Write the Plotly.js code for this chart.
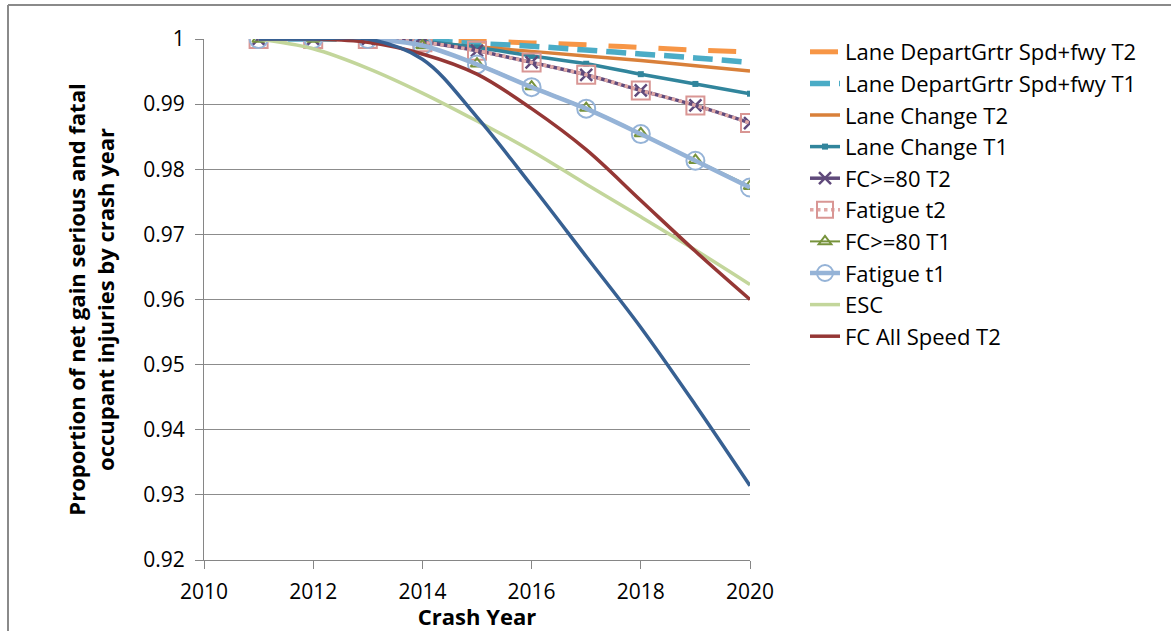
<!DOCTYPE html>
<html>
<head>
<meta charset="utf-8">
<script src="https://cdn.plot.ly/plotly-3.0.1.min.js"></script>
<style>html,body{margin:0;padding:0;background:#fff;}#chart{width:1171px;height:631px;}</style>
</head>
<body>
<div id="chart"></div>
<script>
// ---- data ----
const years = [2011, 2012, 2013, 2014, 2015, 2016, 2017, 2018, 2019, 2020];

const laneDepartT2 = [1, 1, 1, 0.9999, 0.9997, 0.9994, 0.9991, 0.9987, 0.9983, 0.9980];
const laneDepartT1 = [1, 1, 1, 0.9998, 0.9993, 0.9989, 0.9983, 0.9977, 0.9971, 0.9964];
const laneChangeT2 = [1, 1, 1, 0.9995, 0.9988, 0.9981, 0.9974, 0.9967, 0.9959, 0.9951];
const laneChangeT1 = [1, 1, 1, 0.9996, 0.9987, 0.9974, 0.9962, 0.9946, 0.9931, 0.9916];
const fc80T2       = [1, 1, 1, 0.9995, 0.9982, 0.9964, 0.9945, 0.9921, 0.9898, 0.9871];
const fatigueT2    = [1, 1, 1, 0.9995, 0.9982, 0.9964, 0.9945, 0.9921, 0.9898, 0.9871];
const fc80T1       = [1, 1, 1, 0.9990, 0.9962, 0.9927, 0.9894, 0.9855, 0.9814, 0.9774];
const fatigueT1    = [1, 1, 1, 0.9990, 0.9961, 0.9926, 0.9893, 0.9854, 0.9813, 0.9772];
const esc          = [1, 0.9985, 0.9955, 0.9917, 0.9874, 0.9828, 0.9777, 0.9727, 0.9676, 0.9623];
const fcAllT2      = [1, 1, 0.9995, 0.9977, 0.9946, 0.9893, 0.9830, 0.9752, 0.9674, 0.9600];
const fcAllT1      = [1, 1, 1, 0.9969, 0.9880, 0.9775, 0.9666, 0.9557, 0.9438, 0.9314];

const seriesNames = [
  "Lane DepartGrtr Spd+fwy T2",
  "Lane DepartGrtr Spd+fwy T1",
  "Lane Change T2",
  "Lane Change T1",
  "FC>=80 T2",
  "Fatigue t2",
  "FC>=80 T1",
  "Fatigue t1",
  "ESC",
  "FC All Speed T2",
  "FC All Speed T1"
];

const xTickVals = [2010, 2012, 2014, 2016, 2018, 2020];
const yTickVals = [0.92, 0.93, 0.94, 0.95, 0.96, 0.97, 0.98, 0.99, 1];

// ---- traces ----
function tr(name, y, line, marker, extra) {
  const t = {
    type: 'scatter', x: years, y: y, name: name, legendgroup: name,
    mode: marker ? 'lines+markers' : 'lines',
    line: Object.assign({shape: 'spline', smoothing: 1}, line)
  };
  if (marker) t.marker = marker;
  return Object.assign(t, extra || {});
}

const traces = [
  tr(seriesNames[0], laneDepartT2, {color: '#F79646', width: 5, dash: '28px,22px'}),
  tr(seriesNames[1], laneDepartT1, {color: '#4BACC6', width: 5.5, dash: '20px,9px'}),
  tr(seriesNames[2], laneChangeT2, {color: '#D9803A', width: 3.5}),
  tr(seriesNames[3], laneChangeT1, {color: '#31859C', width: 3.5},
     {symbol: 'square', size: 6, color: '#31859C'}),
  tr(seriesNames[4], fc80T2, {color: '#604A7B', width: 3.5},
     {symbol: 'x-thin', size: 12, color: '#604A7B', line: {color: '#604A7B', width: 2.5}}),
  tr(seriesNames[5], fatigueT2, {color: '#E0A8A6', width: 3.5, dash: 'dot'},
     {symbol: 'square-open', size: 18, color: '#D99694', line: {color: '#D99694', width: 2}}),
  tr(seriesNames[6], fc80T1, {color: '#77933C', width: 2},
     {symbol: 'triangle-up-open', size: 11, color: '#77933C', line: {color: '#77933C', width: 2}}),
  tr(seriesNames[7], fatigueT1, {color: '#95B3D7', width: 4.5},
     {symbol: 'circle-open', size: 18, color: '#95B3D7', line: {color: '#95B3D7', width: 2}}),
  tr(seriesNames[8], esc, {color: '#C3D69B', width: 3.5}),
  tr(seriesNames[9], fcAllT2, {color: '#953735', width: 3.5}),
  tr(seriesNames[10], fcAllT1, {color: '#376092', width: 3.5}, null, {showlegend: false})
];

// ---- layout ----
const L = 204, R = 750, T = 39, B = 560, W = 1171, H = 631;
const px2x = p => (p - L) / (R - L);
const px2y = p => (B - p) / (B - T);
const fontFam = '"Open Sans", Lato, sans-serif';

const layout = {
  width: W, height: H,
  margin: {l: L, r: W - R, t: T, b: H - B, pad: 0},
  paper_bgcolor: '#fff', plot_bgcolor: '#fff',
  font: {family: fontFam, size: 21, color: '#000'},
  showlegend: true,
  legend: {
    x: px2x(805), y: px2y(31), xanchor: 'left', yanchor: 'top',
    font: {family: fontFam, size: 22, color: '#000'},
    bgcolor: 'rgba(0,0,0,0)', traceorder: 'grouped', tracegroupgap: 0,
    maxheight: 600
  },
  xaxis: {
    range: [2010, 2020], tickmode: 'array', tickvals: xTickVals,
    ticks: 'outside', ticklen: 8, tickcolor: '#868686', tickwidth: 1,
    ticklabelstandoff: 5,
    showgrid: false, zeroline: false,
    showline: true, linecolor: '#868686', linewidth: 1,
    tickfont: {family: fontFam, size: 21, color: '#000'},
    title: {text: '<b>Crash Year</b>', font: {family: fontFam, size: 22, color: '#000'}, standoff: 0},
    automargin: false, fixedrange: true
  },
  yaxis: {
    range: [0.92, 1.0], tickmode: 'array', tickvals: yTickVals,
    ticktext: yTickVals.map(v => String(v)),
    ticks: 'outside', ticklen: 8, tickcolor: '#868686', tickwidth: 1,
    ticklabelstandoff: 6,
    showgrid: true, gridcolor: '#8C8C8C', gridwidth: 1.2, zeroline: false,
    showline: true, linecolor: '#868686', linewidth: 1,
    tickfont: {family: fontFam, size: 21, color: '#000'},
    title: {text: '<b>Proportion of net gain serious and fatal<br>occupant injuries by crash year</b>',
            font: {family: fontFam, size: 22, color: '#000'}, standoff: 22},
    automargin: false, fixedrange: true
  },
  shapes: [
    {type: 'line', xref: 'paper', yref: 'paper', x0: px2x(8), x1: px2x(1180), y0: px2y(5), y1: px2y(5),
     line: {color: '#8A8A8A', width: 2}},
    {type: 'line', xref: 'paper', yref: 'paper', x0: px2x(8), x1: px2x(8), y0: px2y(5), y1: px2y(640),
     line: {color: '#8A8A8A', width: 2}}
  ]
};

Plotly.newPlot('chart', traces, layout, {displayModeBar: false, staticPlot: true});
</script>
</body>
</html>
